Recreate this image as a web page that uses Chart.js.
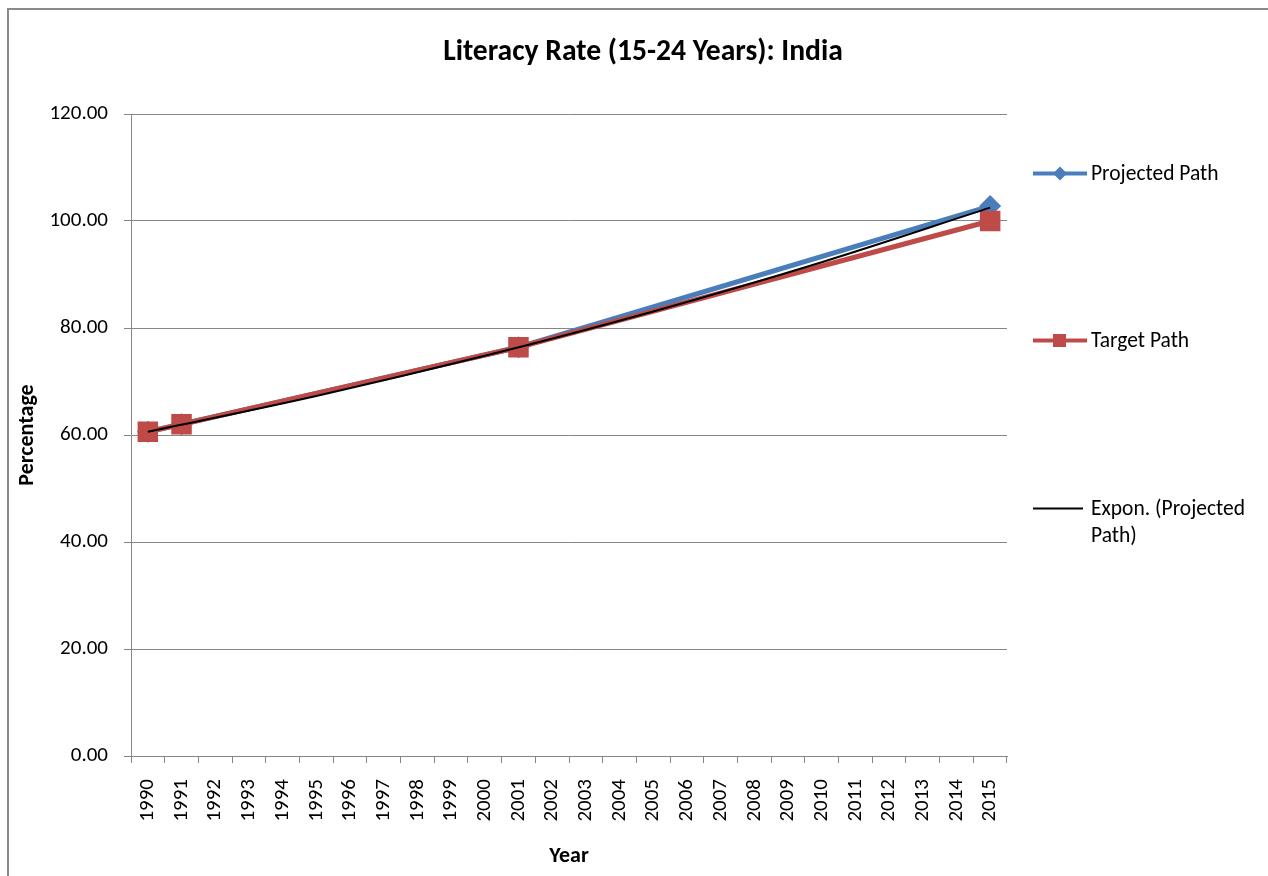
<!DOCTYPE html>
<html><head><meta charset="utf-8">
<script src="https://cdn.jsdelivr.net/npm/chart.js@4.4.1/dist/chart.umd.min.js"></script>
<style>
html,body{margin:0;padding:0;background:#fff;overflow:hidden}
#wrap{position:relative;width:1268px;height:876px;font-family:Carlito,Lato,sans-serif;overflow:hidden}
#frame{position:absolute;left:7px;top:8px;width:1300px;height:900px;border-left:2px solid #8a8a8a;border-top:2px solid #8a8a8a;box-sizing:border-box}
#c{position:absolute;left:0;top:0}
#title{position:absolute;left:0;width:1286px;top:32px;line-height:36px;text-align:center;font-weight:bold;font-size:29.6px;color:#000}
.leg{position:absolute;left:1033px;font-size:21.5px;color:#000;line-height:27px}
.leg svg{position:absolute;left:0;top:0}
.leg span{position:absolute;left:58px;top:0;white-space:nowrap}
</style></head>
<body><div id="wrap">
<canvas id="c" width="1268" height="876"></canvas>
<div id="frame"></div>
<div id="title">Literacy Rate (15-24 Years): India</div>
<div class="leg" style="top:159.5px"><svg width="56" height="27"><line x1="0" y1="13.5" x2="54" y2="13.5" stroke="#4a7ebb" stroke-width="4"/><polygon points="27,6.5 34,13.5 27,20.5 20,13.5" fill="#4a7ebb"/></svg><span>Projected Path</span></div>
<div class="leg" style="top:326.5px"><svg width="56" height="27"><line x1="0" y1="13.5" x2="54" y2="13.5" stroke="#be4b48" stroke-width="4"/><rect x="20" y="7" width="13" height="13" fill="#be4b48"/></svg><span>Target Path</span></div>
<div class="leg" style="top:494.5px"><svg width="56" height="27"><line x1="0" y1="13.5" x2="50" y2="13.5" stroke="#000" stroke-width="2"/></svg><span>Expon. (Projected<br>Path)</span></div>
</div>
<script>
const years = ['1990','1991','1992','1993','1994','1995','1996','1997','1998','1999','2000','2001','2002','2003','2004','2005','2006','2007','2008','2009','2010','2011','2012','2013','2014','2015'];
const projectedPath = [60.6, 62.0, null, null, null, null, null, null, null, null, null, 76.4, null, null, null, null, null, null, null, null, null, null, null, null, null, 102.8];
const targetPath = [60.6, 62.0, null, null, null, null, null, null, null, null, null, 76.4, null, null, null, null, null, null, null, null, null, null, null, null, null, 100.0];
const exponTrend = [60.6, null, null, null, null, 67.3, null, null, null, null, 74.8, null, null, null, null, 83.1, null, null, null, null, 92.3, null, null, null, null, 102.5];
const yTickValues = [0, 20, 40, 60, 80, 100, 120];

const gridColor = '#868686';
const fontFam = 'Carlito, Lato, sans-serif';

new Chart(document.getElementById('c'), {
  type: 'line',
  data: {
    labels: years,
    datasets: [
      { label: 'Expon. (Projected Path)', data: exponTrend, borderColor: '#000', borderWidth: 2, pointRadius: 0, spanGaps: true, cubicInterpolationMode: 'monotone', order: 0 },
      { label: 'Target Path', data: targetPath, borderColor: '#be4b48', backgroundColor: '#be4b48', borderWidth: 5, pointStyle: 'rect', pointRadius: 14.5, pointBorderWidth: 0, spanGaps: true, order: 1 },
      { label: 'Projected Path', data: projectedPath, borderColor: '#4a7ebb', backgroundColor: '#4a7ebb', borderWidth: 5, pointStyle: 'rectRot', pointRadius: 11, pointBorderWidth: 0, spanGaps: true, order: 2 }
    ]
  },
  options: {
    responsive: false,
    animation: false,
    layout: { padding: { top: 114, right: 261, bottom: 0, left: 0 } },
    plugins: { legend: { display: false }, title: { display: false }, tooltip: { enabled: false } },
    scales: {
      x: {
        type: 'category',
        offset: true,
        grid: { offset: true, drawOnChartArea: false, drawTicks: true, tickLength: 7, color: gridColor, lineWidth: 1 },
        border: { display: true, color: gridColor, width: 1 },
        ticks: { autoSkip: false, minRotation: 90, maxRotation: 90, padding: 16, color: '#000', font: { family: fontFam, size: 21 } },
        title: { display: true, text: 'Year', color: '#000', font: { family: fontFam, size: 22, weight: 'bold' }, padding: { top: 0, bottom: 6 } },
        afterFit: s => { s.height = 120; }
      },
      y: {
        min: 0, max: 120,
        afterBuildTicks: s => { s.ticks = yTickValues.map(v => ({ value: v })); },
        grid: { drawTicks: true, tickLength: 7, color: gridColor, lineWidth: 1 },
        border: { display: true, color: gridColor, width: 1 },
        ticks: { padding: 16, color: '#000', font: { family: fontFam, size: 21 }, callback: v => Number(v).toFixed(2) },
        title: { display: true, text: 'Percentage', color: '#000', font: { family: fontFam, size: 22, weight: 'bold' }, padding: { top: 14, bottom: 0 } },
        afterFit: s => { s.width = 131; }
      }
    }
  }
});
</script>
</body></html>
